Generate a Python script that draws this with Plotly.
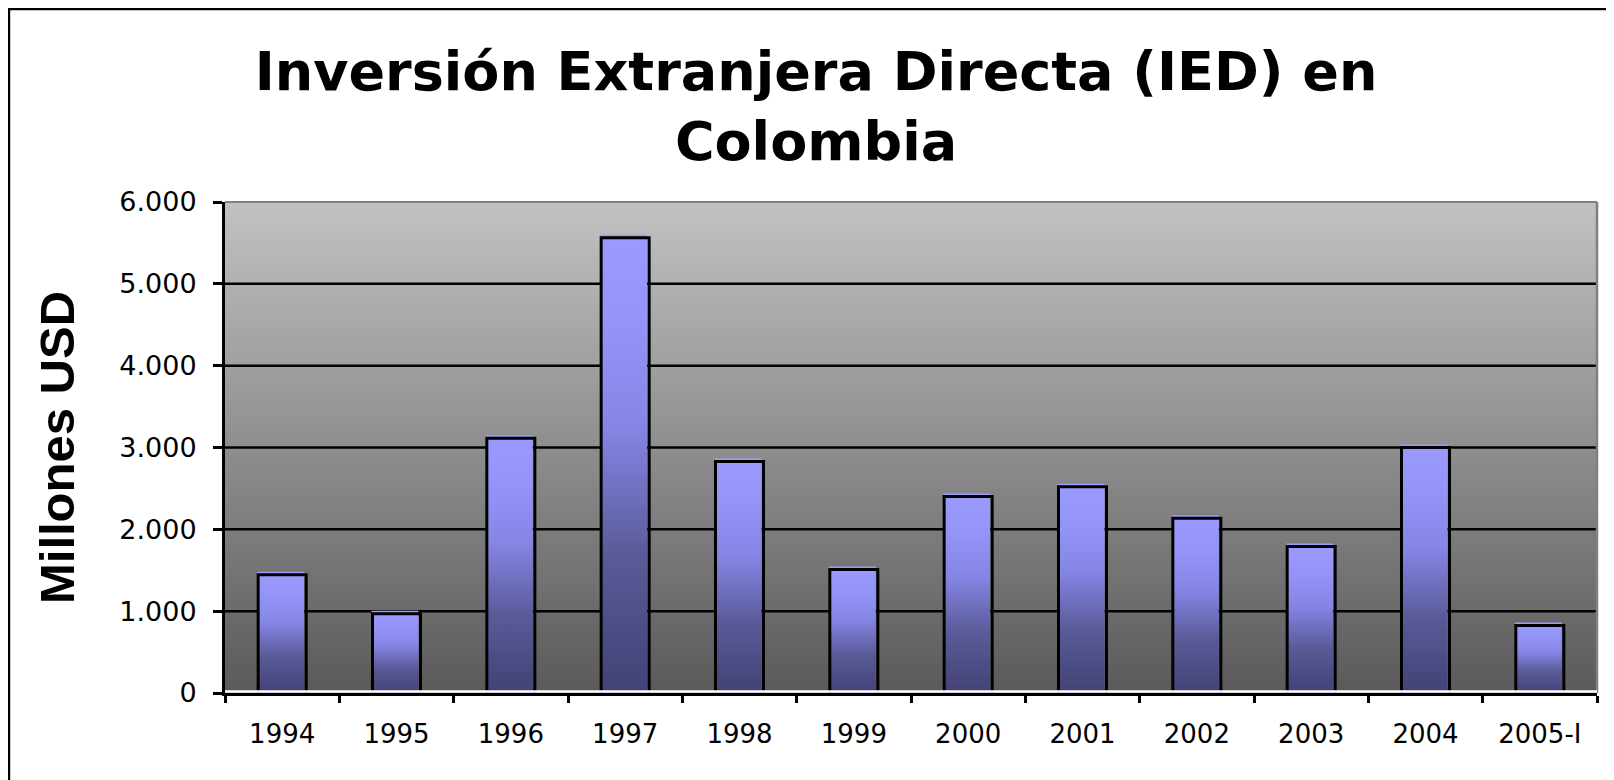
import plotly.graph_objects as go

categories = ["1994", "1995", "1996", "1997", "1998", "1999",
              "2000", "2001", "2002", "2003", "2004", "2005-I"]
ied_values = [1446, 968, 3112, 5562, 2829, 1508, 2400, 2520, 2134, 1790, 3000, 824]
y_tick_values = [0, 1000, 2000, 3000, 4000, 5000, 6000]
y_tick_labels = ["0", "1.000", "2.000", "3.000", "4.000", "5.000", "6.000"]

# the page body adds an 8px margin, so the figure is 8px smaller than the window
W, H = 1606, 772
ML, MR, MT, MB = 217, 17, 194, 87
PW, PH = W - ML - MR, H - MT - MB

positions = list(range(len(categories)))
half = 0.21
x_lo, x_hi = -0.5, len(categories) - 0.5
y_max = y_tick_values[-1]

# small "shadow" offset of the fill relative to the outline (in axis units ~ 2-3 px)
fill_dx = 2.0 / (PW / len(categories))
fill_dy = 3.0 / (PH / y_max)

bar_scale = [[0.0, "#424276"], [0.3, "#5a5a98"], [0.58, "#8585e5"],
             [0.8, "#9494f8"], [1.0, "#9a9aff"]]

fig = go.Figure()

# plot-area gradient background
fig.add_trace(go.Scatter(
    x=[x_lo, x_hi, x_hi, x_lo, x_lo], y=[0, 0, y_max, y_max, 0],
    mode="lines", line=dict(width=0), fill="toself",
    fillgradient=dict(type="vertical", start=0, stop=y_max,
                      colorscale=[[0, "#5a5a5a"], [1, "#c2c2c2"]]),
    hoverinfo="skip", showlegend=False))

# horizontal gridlines (behind bars)
gx, gy = [], []
for v in y_tick_values[1:-1]:
    gx += [x_lo, x_hi, None]
    gy += [v, v, None]
fig.add_trace(go.Scatter(x=gx, y=gy, mode="lines",
                         line=dict(color="black", width=2.5),
                         hoverinfo="skip", showlegend=False))

# bars: gradient fill, then black outline
for p, v, c in zip(positions, ied_values, categories):
    fig.add_trace(go.Scatter(
        x=[p - half - fill_dx * 0.5, p - half - fill_dx * 0.5,
           p + half - fill_dx, p + half - fill_dx],
        y=[0, v + fill_dy, v + fill_dy, 0],
        mode="lines", line=dict(width=0), fill="toself",
        fillgradient=dict(type="vertical", start=0, stop=v + fill_dy,
                          colorscale=bar_scale),
        name=c, hoverinfo="skip", showlegend=False))
for p, v, c in zip(positions, ied_values, categories):
    fig.add_trace(go.Scatter(
        x=[p - half, p - half, p + half, p + half],
        y=[0, v, v, 0],
        mode="lines", line=dict(width=3, color="black"),
        name=c, hoverinfo="skip", showlegend=False))

shapes = [
    # outer frame
    dict(type="rect", xref="paper", yref="paper",
         x0=(0.7 - ML) / PW, x1=1.2, y0=-0.5, y1=1 + (MT - 0.7) / PH,
         line=dict(color="black", width=3), fillcolor="rgba(0,0,0,0)", layer="above"),
    # plot area top and right border
    dict(type="line", xref="paper", yref="paper", x0=0, x1=1, y0=1, y1=1,
         line=dict(color="#808080", width=2), layer="above"),
    dict(type="line", xref="paper", yref="paper", x0=1, x1=1, y0=0, y1=1,
         line=dict(color="#808080", width=2.5), layer="above"),
    # white floor line
    dict(type="line", xref="paper", yref="y", x0=0, x1=1, y0=18, y1=18,
         line=dict(color="white", width=2.5), layer="above"),
]

fig.update_layout(
    width=W, height=H, autosize=False,
    margin=dict(l=ML, r=MR, t=MT, b=MB),
    paper_bgcolor="white", plot_bgcolor="white",
    showlegend=False,
    title=dict(text="Inversión Extranjera Directa (IED) en<br>Colombia",
               font=dict(family="DejaVu Sans", size=54, color="black", weight="bold"),
               x=808 / W, xref="container", xanchor="center",
               y=1 - 82 / H, yref="container", yanchor="top"),
    shapes=shapes,
    xaxis=dict(range=[x_lo, x_hi], tickmode="array", tickvals=positions,
               ticktext=categories, ticks="", showgrid=False, zeroline=False,
               showline=True, linecolor="black", linewidth=3,
               tickfont=dict(family="DejaVu Sans", size=26, color="black"),
               ticklabelstandoff=16,
               minor=dict(tickmode="array",
                          tickvals=[p - 0.5 for p in positions] + [x_hi],
                          ticks="outside", ticklen=7, tickwidth=2.5,
                          tickcolor="black", showgrid=False),
               automargin=False, fixedrange=True),
    yaxis=dict(range=[0, y_max], tickmode="array", tickvals=y_tick_values,
               ticktext=y_tick_labels, ticks="outside", ticklen=9, tickwidth=2.5,
               tickcolor="black", showgrid=False, zeroline=False,
               showline=True, linecolor="black", linewidth=3,
               tickfont=dict(family="DejaVu Sans", size=27, color="black"),
               ticklabelstandoff=11,
               title=dict(text="Millones USD", standoff=30,
                          font=dict(family="Liberation Sans", size=49,
                                    color="black", weight="bold")),
               automargin=False, fixedrange=True),
)

fig.write_html("out.html")
